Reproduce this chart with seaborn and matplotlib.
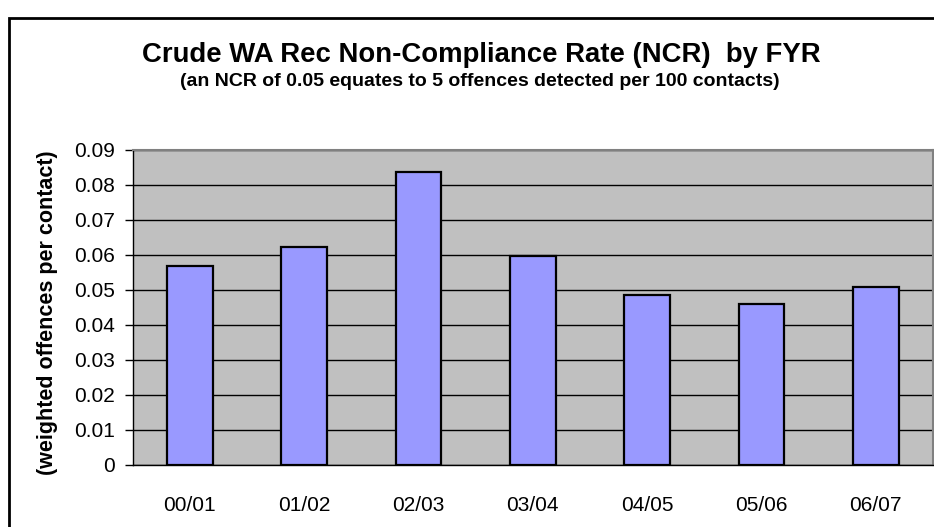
import matplotlib
matplotlib.use("Agg")
import matplotlib.pyplot as plt
import seaborn as sns
import pandas as pd
from matplotlib.patches import Rectangle

years = ["00/01", "01/02", "02/03", "03/04", "04/05", "05/06", "06/07"]
ncr = [0.0568, 0.0623, 0.0836, 0.0597, 0.0484, 0.0459, 0.0509]
yticks = [0, 0.01, 0.02, 0.03, 0.04, 0.05, 0.06, 0.07, 0.08, 0.09]
ytick_labels = ["0", "0.01", "0.02", "0.03", "0.04", "0.05", "0.06", "0.07", "0.08", "0.09"]

df = pd.DataFrame({"year": years, "ncr": ncr})

sns.set_style("white")
plt.rcParams["font.family"] = ["Liberation Sans", "DejaVu Sans"]
plt.rcParams["text.color"] = "black"
plt.rcParams["xtick.color"] = "black"
plt.rcParams["ytick.color"] = "black"
plt.rcParams["axes.labelcolor"] = "black"

fig = plt.figure(figsize=(9.34, 5.27), dpi=100)
ax = fig.add_axes([132.7 / 934, 1 - 465 / 527, (933 - 132.7) / 934, (465 - 149.5) / 527])

ax.set_facecolor("#C0C0C0")
ax.set_axisbelow(True)
ax.yaxis.grid(True, color="black", linewidth=1.0)
ax.xaxis.grid(False)

sns.barplot(data=df, x="year", y="ncr", color="#9999FF", edgecolor="black",
            linewidth=1.6, width=0.4, saturation=1, ax=ax, zorder=3)

ax.set_ylim(0, 0.09)
ax.set_xlim(-0.5, len(years) - 0.5)
ax.set_yticks(yticks)
ax.set_yticklabels(ytick_labels, fontsize=15)
ax.set_xticks(range(len(years)))
ax.set_xticklabels(years, fontsize=15)
ax.tick_params(axis="x", length=0, pad=22)
ax.tick_params(axis="y", length=6, width=1, color="black", direction="out", pad=7, left=True)
# category boundary ticks on the x axis
ax.set_xticks([i - 0.5 for i in range(len(years) + 1)], minor=True)
ax.tick_params(axis="x", which="minor", length=7, width=1, color="black", direction="out")
ax.set_xlabel("")
ax.set_ylabel("")

for side in ["left", "bottom"]:
    ax.spines[side].set_color("black")
    ax.spines[side].set_linewidth(1.0)
for side in ["top", "right"]:
    ax.spines[side].set_color("#808080")
    ax.spines[side].set_linewidth(1.5)

fig.text(48 / 934, 1 - 313 / 527, "(weighted offences per contact)", rotation=90,
         ha="center", va="center", fontsize=15.5, fontweight="bold")
fig.text(481 / 934, 1 - 55 / 527, "Crude WA Rec Non-Compliance Rate (NCR)  by FYR",
         ha="center", va="center", fontsize=19.8, fontweight="bold")
fig.text(480 / 934, 1 - 81 / 527, "(an NCR of 0.05 equates to 5 offences detected per 100 contacts)",
         ha="center", va="center", fontsize=14, fontweight="bold")

# outer chart border (runs off the right and bottom edges)
fig.patches.append(Rectangle((9 / 934, -0.2), 1.2, 1.2 - 18 / 527, transform=fig.transFigure,
                             fill=False, edgecolor="black", linewidth=2, zorder=0))

fig.savefig("out.png", dpi=100)
